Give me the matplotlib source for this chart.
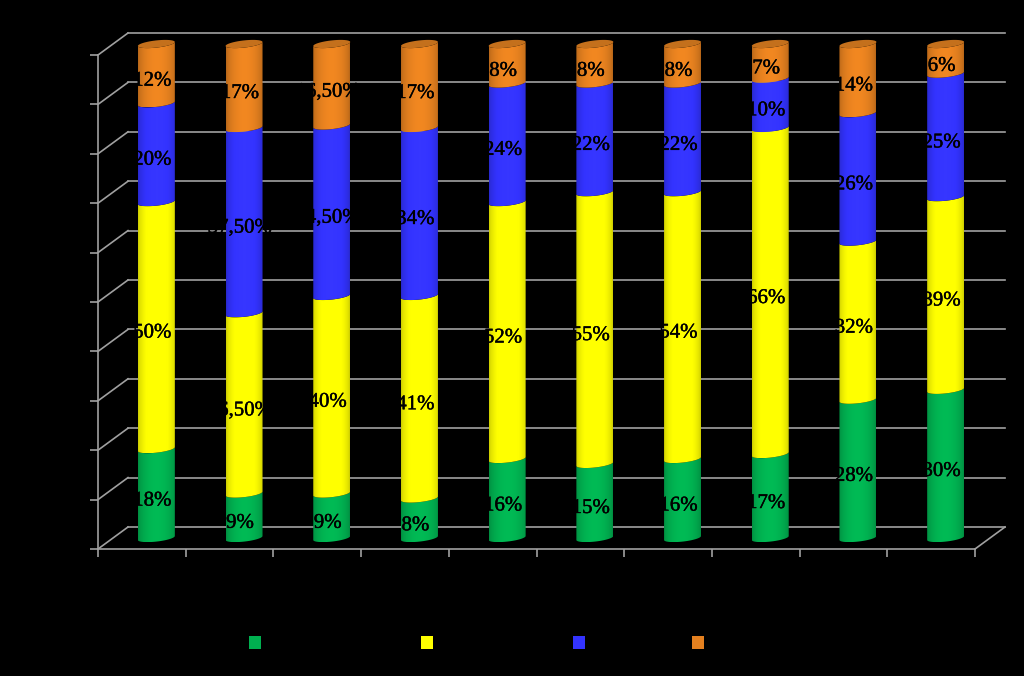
import numpy as np
import matplotlib
matplotlib.use('Agg')
import matplotlib.pyplot as plt
import matplotlib.patheffects as pe
from matplotlib.patches import Rectangle, PathPatch
from matplotlib.path import Path

green = [18, 9, 9, 8, 16, 15, 16, 17, 28, 30]
yellow = [50, 36.5, 40, 41, 52, 55, 54, 66, 32, 39]
blue = [20, 37.5, 34.5, 34, 24, 22, 22, 10, 26, 25]
orange = [12, 17, 16.5, 17, 8, 8, 8, 7, 14, 6]

series = [green, yellow, blue, orange]
colors = ['#00b050', '#ffff00', '#3333ff', '#e4801f']
legend_x = [255, 427, 579, 698]

line_color = '#a0a0a0'
W, H = 1024, 676
left, right, bottom, top = 98, 975, 549, 55
px_x = 10 / (right - left)   # data units per pixel
px_y = 100 / (bottom - top)
depth_x, depth_y = 30 * px_x, 22 * px_y


def arc(center, y, t0, t1):
    # front or back half of the tilted ellipse that closes a cylinder
    t = np.linspace(t0, t1, 40)
    xs = center + 18.5 * np.cos(t) * px_x
    ys = y + (2.0 * np.cos(t) + 3.6 * np.sin(t)) * px_y
    return np.column_stack([xs, ys])


def shaded(ax, verts, color, center):
    # cylinder look: horizontal gradient clipped to the outline
    u = np.linspace(0, 1, 64)
    rgb = np.array(matplotlib.colors.to_rgb(color))
    shade = 0.80 + 0.26 * np.sin(np.pi * u) ** 0.6
    img = np.clip(rgb[None, None, :] * shade[None, :, None], 0, 1)
    ys = verts[:, 1]
    im = ax.imshow(img, aspect='auto', zorder=3, interpolation='bilinear',
                   extent=[center - 18.5 * px_x, center + 18.5 * px_x, ys.min(), ys.max()])
    patch = PathPatch(Path(verts), transform=ax.transData, fc='none', ec='none', clip_on=False)
    ax.add_patch(patch)
    im.set_clip_box(fig.bbox)
    im.set_clip_path(patch)


fig = plt.figure(figsize=(W / 100, H / 100), dpi=100, facecolor='black')
ax = fig.add_axes([left / W, 1 - bottom / H, (right - left) / W, (bottom - top) / H])
ax.set_facecolor('black')

# back wall grid, left wall diagonals and floor edge
for v in range(0, 101, 10):
    ax.plot([depth_x, 10 + depth_x], [v + depth_y, v + depth_y], color=line_color, lw=1.2,
            clip_on=False, zorder=1)
    ax.plot([0, depth_x], [v, v + depth_y], color=line_color, lw=1.2, clip_on=False, zorder=1)
ax.plot([10, 10 + depth_x], [0, depth_y], color=line_color, lw=1.2, clip_on=False, zorder=1)

n = len(green)
base_y = depth_y / 2
for i in range(n):
    center = i + 0.5 + 14.5 * px_x
    cum = 0
    for vals, col in zip(series, colors):
        v = vals[i]
        y0 = base_y + cum
        y1 = y0 + v
        lower = arc(center, y0, np.pi, 2 * np.pi)
        upper = arc(center, y1, 2 * np.pi, np.pi)
        shaded(ax, np.vstack([lower, upper, lower[:1]]), col, center)
        cum += v
    # top cap of the stack
    cap = arc(center, base_y + cum, 0, 2 * np.pi)
    ax.fill(cap[:, 0], cap[:, 1], color='#c4701c', zorder=4, clip_on=False, lw=0)

    cum = 0
    for vals in series:
        v = vals[i]
        if v == int(v):
            label = f'{int(v)}%'
        else:
            label = f'{v:.2f}%'.replace('.', ',')
        ax.text(center - 4 * px_x, base_y + cum + v / 2 - 7.5 * px_y, label, ha='center', va='center',
                fontsize=15, family='Liberation Serif', color='black', zorder=6, clip_on=False,
                path_effects=[pe.withStroke(linewidth=0.3, foreground='black')])
        cum += v

ax.set_xlim(0, 10)
ax.set_ylim(0, 100)
ax.set_xticks(range(11))
ax.set_yticks(range(0, 101, 10))
ax.set_xticklabels([])
ax.set_yticklabels([])
ax.tick_params(color=line_color, width=1.2, length=6, direction='out')
for side in ['top', 'right']:
    ax.spines[side].set_visible(False)
for side in ['left', 'bottom']:
    ax.spines[side].set_color(line_color)
    ax.spines[side].set_linewidth(1.2)

# legend markers (their labels are not readable in the picture)
for x, col in zip(legend_x, colors):
    fig.add_artist(Rectangle(((x - 6) / W, 1 - 648.5 / H), 12 / W, 13 / H, transform=fig.transFigure,
                             fc=col, ec='none'))

fig.savefig('out.png', dpi=100, facecolor='black')
